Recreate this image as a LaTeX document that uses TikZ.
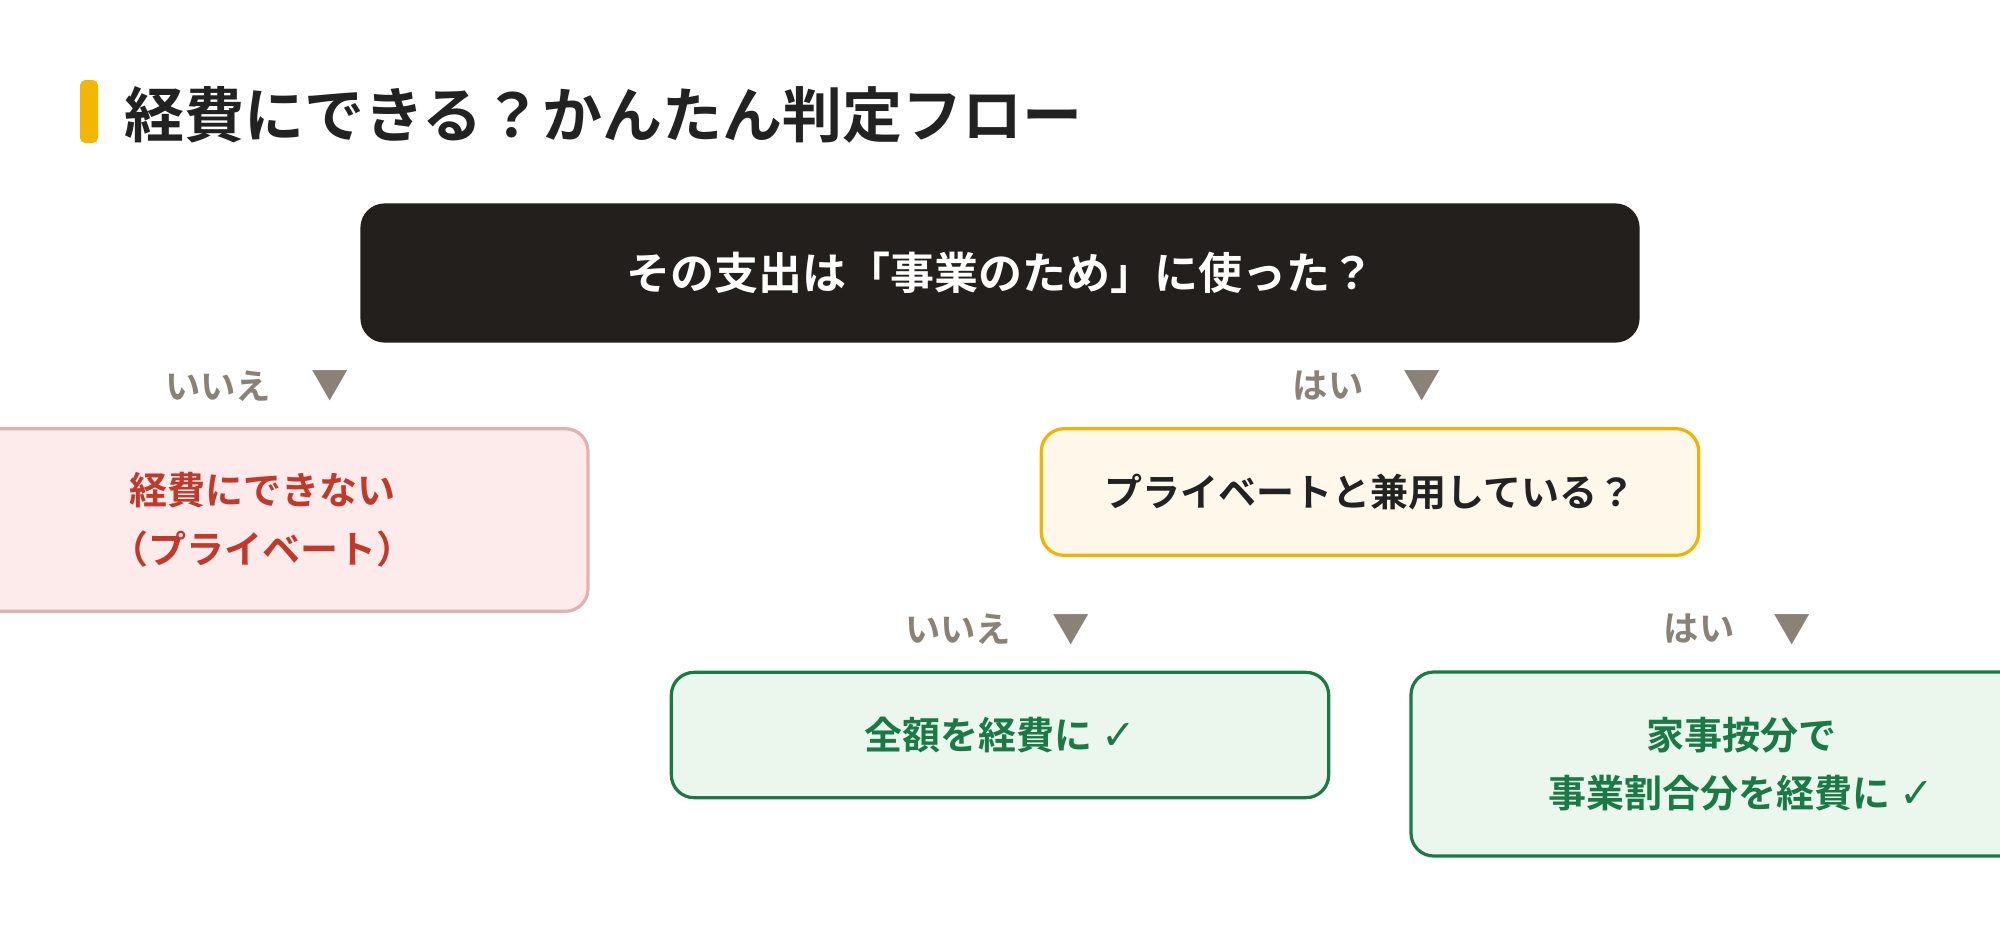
\documentclass[tikz,border=0pt]{standalone}
\usepackage{fontspec}
\setmainfont{Noto Sans CJK JP}[BoldFont={Noto Sans CJK JP Bold}]
\newfontfamily\symfont{DejaVu Sans}
\usepackage{tikz}
\definecolor{barcol}{HTML}{F2B705}
\definecolor{inkcol}{HTML}{222222}
\definecolor{qcol}{HTML}{231F1C}
\definecolor{lblcol}{HTML}{8A8276}
\definecolor{nofill}{HTML}{FDEAEA}
\definecolor{nodraw}{HTML}{E2B2AE}
\definecolor{notext}{HTML}{C0392B}
\definecolor{subfill}{HTML}{FFF8EA}
\definecolor{subdraw}{HTML}{F0B400}
\definecolor{okfill}{HTML}{EBF6EC}
\definecolor{okdraw}{HTML}{1A7A45}
\newcommand{\okmark}{{\symfont\bfseries\fontsize{31}{44}\selectfont ✓}}

\begin{document}
\begin{tikzpicture}[x=0.75pt, y=-0.75pt,
  every node/.style={font=\bfseries, outer sep=0pt, inner sep=0pt},
  box/.style={rectangle, rounded corners=17pt, line width=2.4pt, align=center, font=\bfseries\fontsize{28.5}{44}\selectfont},
  lbl/.style={text=lblcol, font=\bfseries\fontsize{26.5}{26.5}\selectfont},
  tri/.style={text=lblcol, font=\bfseries\fontsize{28}{28}\selectfont}]
\useasboundingbox[fill=white] (0,0) rectangle (2000,926);

\fill[barcol, rounded corners=4pt] (80,80) rectangle (98,143);
\node[anchor=west, text=inkcol, font=\bfseries\fontsize{45}{45}\selectfont] (title) at (124,115) {経費にできる？かんたん判定フロー};

\node[box, fill=qcol, draw=qcol, text=white, minimum width=957pt, minimum height=102pt, font=\bfseries\fontsize{33}{33}\selectfont] (q1) at (1000,273) {その支出は「事業のため」に使った？};

\node[lbl] (no1) at (218,386) {いいえ};
\node[tri] (no1tri) at (330,386) {▼};
\node[lbl] (yes1) at (1328,386) {はい};
\node[tri] (yes1tri) at (1422,386) {▼};

\node[box, fill=nofill, draw=nodraw, text=notext, minimum width=489pt, minimum height=137pt] (ng) at (262,520) {経費にできない\\（プライベート）};

\node[box, fill=subfill, draw=subdraw, text=inkcol, minimum width=493pt, minimum height=95pt] (q2) at (1370,492) {プライベートと兼用している？};

\node[lbl] (no2) at (958,629) {いいえ};
\node[tri] (no2tri) at (1071,630) {▼};
\node[lbl] (yes2) at (1699,629) {はい};
\node[tri] (yes2tri) at (1792,630) {▼};

\node[box, fill=okfill, draw=okdraw, text=okdraw, minimum width=493pt, minimum height=94pt] (full) at (1000,735) {全額を経費に \okmark};

\node[box, fill=okfill, draw=okdraw, text=okdraw, minimum width=495pt, minimum height=138pt] (part) at (1741,764) {家事按分で\\事業割合分を経費に \okmark};
\end{tikzpicture}
\end{document}
